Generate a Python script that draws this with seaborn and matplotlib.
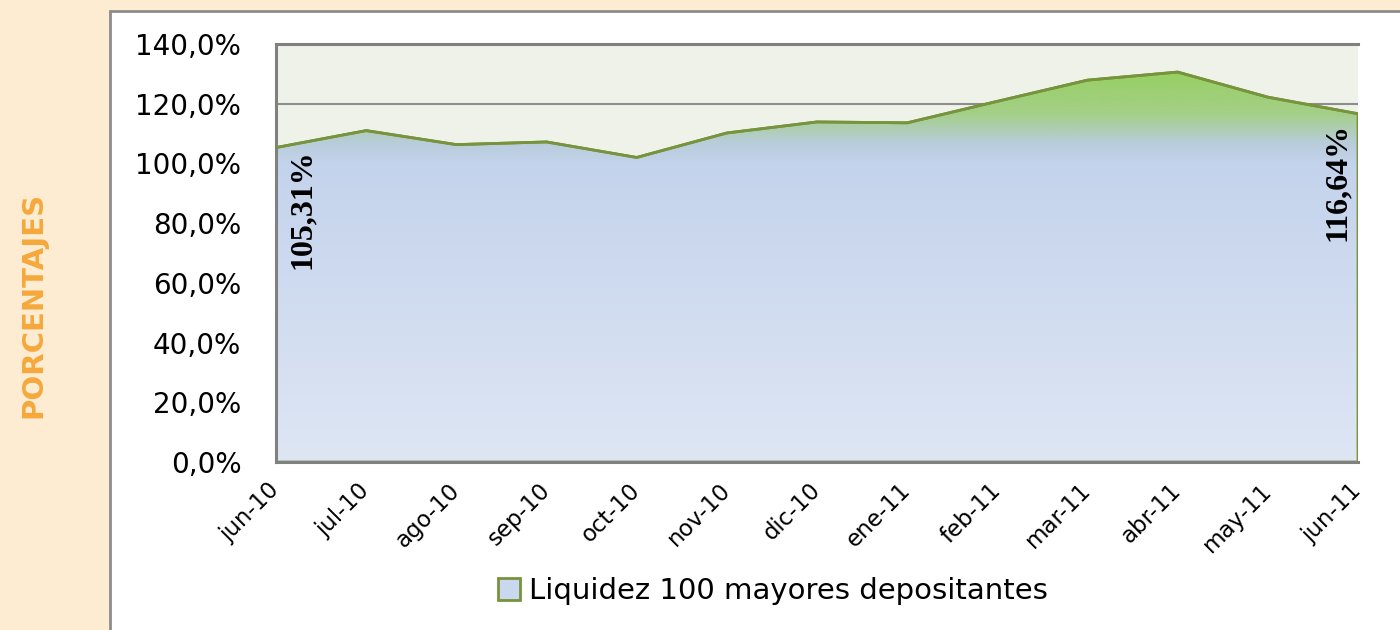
import numpy as np
import pandas as pd
import matplotlib
matplotlib.use("Agg")
import matplotlib.pyplot as plt
import matplotlib.transforms as mtransforms
import seaborn as sns
from matplotlib.colors import LinearSegmentedColormap
from matplotlib.patches import Rectangle, Patch, Polygon
from matplotlib.ticker import FuncFormatter

# ---- data ----
months = ["jun-10", "jul-10", "ago-10", "sep-10", "oct-10", "nov-10", "dic-10",
          "ene-11", "feb-11", "mar-11", "abr-11", "may-11", "jun-11"]
values = [105.31, 111.0, 106.3, 107.2, 102.0, 110.2, 113.9,
          113.6, 120.8, 127.9, 130.6, 122.2, 116.64]
first_label = "105,31%"
last_label = "116,64%"
series_name = "Liquidez 100 mayores depositantes"
y_axis_title = "PORCENTAJES"
y_ticks = [0, 20, 40, 60, 80, 100, 120, 140]

sns.set_theme(style="white")
plt.rcParams["font.family"] = ["DejaVu Sans"]
plt.rcParams["text.color"] = "black"

W, H = 1400, 630
fig = plt.figure(figsize=(14, 6.3), dpi=100)
fig.patch.set_facecolor("#FDEBD2")
fig.patches.append(Rectangle((110 / W, -0.1), 1.0, 1.1 - 11 / H, transform=fig.transFigure,
                             facecolor="white", edgecolor="#8C8C8C", linewidth=2, zorder=-5))

ax = fig.add_axes([276 / W, 1 - 462 / H, (1358 - 276) / W, (462 - 44) / H])
ax.set_zorder(1)
ax.set_facecolor("#EEF2E8")

df = pd.DataFrame({"pos": np.arange(len(months)), "mes": months, "valor": values})

# gradient-filled area
cmap = LinearSegmentedColormap.from_list(
    "grad",
    [(0.0, "#DEE6F4"), (100 / 140, "#C4D3EC"), (107 / 140, "#B8CDDB"),
     (117 / 140, "#A4CF88"), (1.0, "#8FCF4A")])
grad = np.linspace(0, 1, 400).reshape(-1, 1)
im = ax.imshow(grad, extent=[0, len(months) - 1, 0, 140], aspect="auto",
               origin="lower", cmap=cmap, zorder=1.2)
verts = [(0, 0)] + list(zip(df["pos"], df["valor"])) + [(len(months) - 1, 0)]
poly = Polygon(verts, closed=True, facecolor="none", edgecolor="#77933C",
               linewidth=2, zorder=1.5)
ax.add_patch(poly)
im.set_clip_path(poly)

sns.lineplot(data=df, x="pos", y="valor", ax=ax, color="#77933C", linewidth=2,
             sort=False, zorder=3)

ax.set_xlim(0, len(months) - 1)
ax.set_ylim(0, 140)
ax.set_yticks(y_ticks)
ax.yaxis.set_major_formatter(FuncFormatter(lambda v, p: f"{v:.1f}%".replace(".", ",")))
ax.set_xticks(df["pos"])
ax.set_xticklabels(months, rotation=45, ha="right", rotation_mode="anchor", fontsize=16.5)
ax.tick_params(axis="y", labelsize=20, length=0, pad=25, colors="black")
ax.tick_params(axis="x", length=0, pad=12, colors="black")
shift = mtransforms.ScaledTranslation(-8 / 100, 0, fig.dpi_scale_trans)
for lbl in ax.get_xticklabels():
    lbl.set_transform(lbl.get_transform() + shift)
ax.set_xlabel("")
ax.set_ylabel("")

ax.yaxis.grid(True, color="#8C8C8C", linewidth=1.5)
ax.xaxis.grid(False)
ax.set_axisbelow(True)
for s in ["left", "bottom", "top"]:
    ax.spines[s].set_visible(True)
    ax.spines[s].set_color("#808080")
    ax.spines[s].set_linewidth(2.2)
    ax.spines[s].set_zorder(2.5)
ax.spines["right"].set_visible(False)

ax.annotate(first_label, xy=(0, values[0]), xytext=(26, -2), textcoords="offset pixels",
            rotation=90, ha="center", va="top", fontsize=23, fontweight="bold",
            family="Liberation Serif", color="black", zorder=4)
ax.annotate(last_label, xy=(len(months) - 1, values[-1]), xytext=(-21, -9),
            textcoords="offset pixels", rotation=90, ha="center", va="top",
            fontsize=23, fontweight="bold", family="Liberation Serif",
            color="black", zorder=4)

handles = [Patch(facecolor="#C9D7EF", edgecolor="#77933C", linewidth=2, label=series_name)]
leg = fig.legend(handles=handles, loc="center", bbox_to_anchor=(773 / W, 1 - 591 / H),
                 frameon=False, fontsize=21, handlelength=0.75, handleheight=0.75,
                 handletextpad=0.3)
for t in leg.get_texts():
    t.set_color("black")

fig.text(33 / W, 1 - 305 / H, y_axis_title, rotation=90, color="#F5A83A",
         fontweight="bold", fontsize=21, ha="center", va="center")

fig.savefig("out.png", dpi=100, facecolor=fig.get_facecolor())
